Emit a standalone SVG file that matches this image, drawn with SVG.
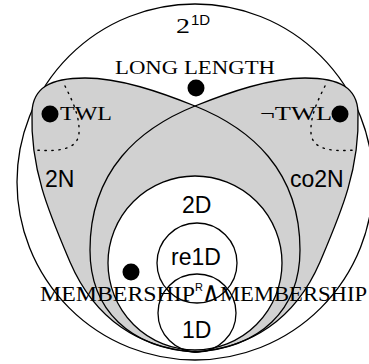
<svg xmlns="http://www.w3.org/2000/svg" xmlns:xlink="http://www.w3.org/1999/xlink" width="369" height="364" viewBox="0 0 369 364">
<style>
.ln{fill:none;stroke:#000;stroke-width:1.3}
.gray{fill:#d1d1d1;stroke:none}
.dot{fill:#000}
.dotted{fill:none;stroke:#000;stroke-width:1.4;stroke-dasharray:1.4 5.6;stroke-linecap:round}
.serif{font-family:"Liberation Serif","DejaVu Serif",serif;fill:#000}
.sans{font-family:"Liberation Sans","DejaVu Sans",sans-serif;fill:#000}
</style>
<defs>
<path id="petal" d="M195,352 C140,348 95,320 70,262 C50,215 30,170 32,112 C33,88 50,78 85,78 C120,78 160,92 195,106 C250,128 300,170 300,250 C300,310 260,348 195,352 Z"/>
</defs>
<g id="universe">
<circle cx="195" cy="182" r="178" fill="#fff" stroke="#000" stroke-width="1.3"/>
<text class="serif" x="176" y="33" font-size="22" textLength="14" lengthAdjust="spacingAndGlyphs">2</text>
<text class="sans" x="191" y="25" font-size="15">1D</text>
</g>
<g id="fills">
<use xlink:href="#petal" class="gray"/>
<use xlink:href="#petal" class="gray" transform="translate(390,0) scale(-1,1)"/>
</g>
<g id="n2N">
<use xlink:href="#petal" class="ln"/>
<text class="sans" x="45" y="187" font-size="23">2N</text>
</g>
<g id="co2N">
<use xlink:href="#petal" class="ln" transform="translate(390,0) scale(-1,1)"/>
<text class="sans" x="290" y="187" font-size="23">co2N</text>
</g>
<g id="n2D">
<circle cx="195" cy="263" r="87" fill="#fff" stroke="#000" stroke-width="1.3"/>
<text class="sans" x="182" y="213" font-size="23">2D</text>
</g>
<g id="re1D">
<circle cx="197" cy="263" r="40" class="ln"/>
<text class="sans" x="171" y="265" font-size="23">re1D</text>
</g>
<g id="n1D">
<circle cx="197" cy="313" r="39" class="ln"/>
<text class="sans" x="182" y="338" font-size="23">1D</text>
</g>
<g id="longlength">
<circle cx="196" cy="88" r="8.5" class="dot"/>
<text class="serif" x="115" y="74" font-size="18" textLength="160" lengthAdjust="spacingAndGlyphs">LONG LENGTH</text>
</g>
<g id="twl">
<path class="dotted" d="M65,86 C72,100 80,116 79,133 C78,149 60,152 35,150"/>
<circle cx="50" cy="114" r="8.5" class="dot"/>
<text class="serif" x="60" y="120" font-size="18" textLength="52" lengthAdjust="spacingAndGlyphs">TWL</text>
</g>
<g id="nottwl">
<path class="dotted" d="M325,86 C318,100 310,116 311,133 C312,149 330,152 355,150"/>
<circle cx="340" cy="114" r="8.5" class="dot"/>
<text class="serif" x="260" y="120" font-size="18" textLength="72" lengthAdjust="spacingAndGlyphs">¬TWL</text>
</g>
<g id="membership">
<circle cx="131" cy="272" r="8.5" class="dot"/>
<text class="serif" x="40" y="301" font-size="20" textLength="155" lengthAdjust="spacingAndGlyphs">MEMBERSHIP</text>
<text class="sans" x="195" y="291" font-size="11">R</text>
<text x="202" y="301" font-size="27" font-family="DejaVu Sans, sans-serif" textLength="18" lengthAdjust="spacingAndGlyphs">∧</text>
<text class="serif" x="220" y="301" font-size="20" textLength="147" lengthAdjust="spacingAndGlyphs">MEMBERSHIP</text>
</g>
</svg>
